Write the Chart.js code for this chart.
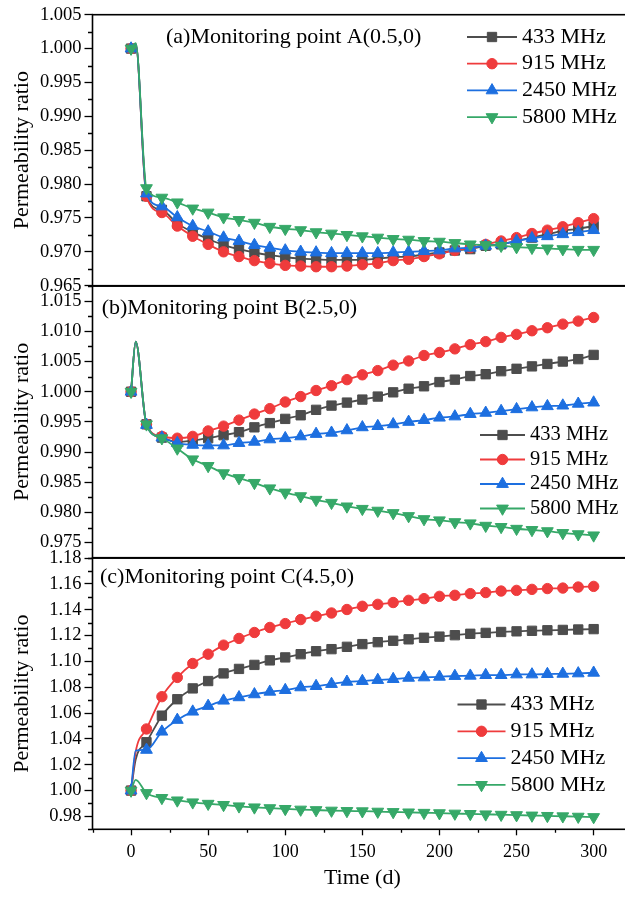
<!DOCTYPE html>
<html>
<head>
<meta charset="utf-8">
<title>Permeability ratio</title>
<script src="https://cdn.jsdelivr.net/npm/chart.js@4.4.1/dist/chart.umd.min.js"></script>
<style>
  html, body { margin: 0; padding: 0; background: #fff; overflow: hidden; width: 625px; height: 901px; }
  canvas { position: absolute; left: 0; display: block; }
</style>
</head>
<body>
<canvas id="chart-a" width="640" height="300" style="top:0"></canvas>
<canvas id="chart-b" width="640" height="300" style="top:272px"></canvas>
<canvas id="chart-c" width="640" height="357" style="top:544px"></canvas>
<script>
const days = [0, 3, 10, 20, 30, 40, 50, 60, 70, 80, 90, 100, 110, 120, 130, 140, 150,
  160, 170, 180, 190, 200, 210, 220, 230, 240, 250, 260, 270, 280, 290, 300];
const frequencies = ['433 MHz', '915 MHz', '2450 MHz', '5800 MHz'];

// (a) monitoring point A(0.5,0)
const pointA433 = [1.0000, 1.0007, 0.9782, 0.9762, 0.9742, 0.9729, 0.9719, 0.9710, 0.9704, 0.9699, 0.9695, 0.9692, 0.9690, 0.9689, 0.9688, 0.9688, 0.9688, 0.9690, 0.9692, 0.9693, 0.9696, 0.9699, 0.9702, 0.9704, 0.9709, 0.9711, 0.9716, 0.9721, 0.9726, 0.9731, 0.9734, 0.9738];
const pointA915 = [1.0000, 1.0007, 0.9782, 0.9758, 0.9738, 0.9723, 0.9711, 0.9700, 0.9693, 0.9687, 0.9683, 0.9680, 0.9679, 0.9678, 0.9678, 0.9679, 0.9681, 0.9683, 0.9687, 0.9689, 0.9693, 0.9697, 0.9702, 0.9706, 0.9711, 0.9716, 0.9721, 0.9727, 0.9732, 0.9737, 0.9743, 0.9749];
const pointA2450 = [1.0000, 1.0007, 0.9786, 0.9767, 0.9751, 0.9738, 0.9730, 0.9721, 0.9716, 0.9710, 0.9706, 0.9702, 0.9700, 0.9699, 0.9698, 0.9698, 0.9698, 0.9698, 0.9699, 0.9700, 0.9701, 0.9702, 0.9705, 0.9706, 0.9709, 0.9711, 0.9716, 0.9720, 0.9723, 0.9726, 0.9729, 0.9732];
const pointA5800 = [1.0000, 1.0008, 0.9794, 0.9780, 0.9773, 0.9764, 0.9758, 0.9751, 0.9747, 0.9743, 0.9737, 0.9734, 0.9732, 0.9729, 0.9727, 0.9725, 0.9723, 0.9721, 0.9719, 0.9718, 0.9716, 0.9715, 0.9713, 0.9711, 0.9710, 0.9709, 0.9707, 0.9706, 0.9705, 0.9704, 0.9703, 0.9703];

// (b) monitoring point B(2.5,0)
const pointB433 = [1.0000, 1.0083, 0.9946, 0.9924, 0.9917, 0.9919, 0.9923, 0.9928, 0.9933, 0.9941, 0.9948, 0.9955, 0.9961, 0.9970, 0.9977, 0.9982, 0.9987, 0.9992, 0.9999, 1.0005, 1.0009, 1.0016, 1.0020, 1.0026, 1.0029, 1.0034, 1.0038, 1.0042, 1.0046, 1.0050, 1.0054, 1.0061];
const pointB915 = [1.0000, 1.0083, 0.9946, 0.9926, 0.9923, 0.9926, 0.9935, 0.9943, 0.9953, 0.9963, 0.9972, 0.9983, 0.9992, 1.0002, 1.0010, 1.0020, 1.0028, 1.0035, 1.0044, 1.0051, 1.0060, 1.0065, 1.0071, 1.0078, 1.0083, 1.0090, 1.0095, 1.0101, 1.0106, 1.0112, 1.0117, 1.0123];
const pointB2450 = [1.0000, 1.0083, 0.9945, 0.9924, 0.9915, 0.9912, 0.9911, 0.9911, 0.9915, 0.9917, 0.9921, 0.9923, 0.9926, 0.9930, 0.9932, 0.9936, 0.9941, 0.9943, 0.9946, 0.9950, 0.9953, 0.9957, 0.9959, 0.9963, 0.9965, 0.9968, 0.9971, 0.9974, 0.9976, 0.9977, 0.9980, 0.9982];
const pointB5800 = [1.0000, 1.0083, 0.9946, 0.9923, 0.9906, 0.9888, 0.9877, 0.9865, 0.9857, 0.9849, 0.9840, 0.9833, 0.9827, 0.9821, 0.9816, 0.9810, 0.9806, 0.9803, 0.9799, 0.9794, 0.9789, 0.9787, 0.9784, 0.9782, 0.9778, 0.9776, 0.9773, 0.9771, 0.9769, 0.9766, 0.9764, 0.9762];

// (c) monitoring point C(4.5,0)
const pointC433 = [1.000, 1.024, 1.0374, 1.0580, 1.0707, 1.0791, 1.0848, 1.0907, 1.0942, 1.0973, 1.1008, 1.1031, 1.1056, 1.1079, 1.1095, 1.1113, 1.1134, 1.1149, 1.1160, 1.1171, 1.1183, 1.1192, 1.1203, 1.1214, 1.1221, 1.1228, 1.1233, 1.1237, 1.1241, 1.1244, 1.1247, 1.1250];
const pointC915 = [1.000, 1.030, 1.0477, 1.0727, 1.0876, 1.0984, 1.1056, 1.1126, 1.1178, 1.1224, 1.1263, 1.1293, 1.1324, 1.1350, 1.1375, 1.1402, 1.1427, 1.1442, 1.1456, 1.1473, 1.1486, 1.1504, 1.1512, 1.1525, 1.1533, 1.1545, 1.1550, 1.1558, 1.1564, 1.1568, 1.1576, 1.1581];
const pointC2450 = [1.000, 1.031, 1.0315, 1.0456, 1.0547, 1.0611, 1.0655, 1.0696, 1.0722, 1.0745, 1.0765, 1.0778, 1.0799, 1.0809, 1.0825, 1.0842, 1.0848, 1.0856, 1.0863, 1.0873, 1.0876, 1.0881, 1.0887, 1.0889, 1.0894, 1.0894, 1.0899, 1.0899, 1.0902, 1.0904, 1.0907, 1.0912];
const pointC5800 = [1.000, 1.0083, 0.9981, 0.9943, 0.9924, 0.9909, 0.9898, 0.9889, 0.9878, 0.9870, 0.9864, 0.9858, 0.9853, 0.9849, 0.9845, 0.9842, 0.9840, 0.9837, 0.9834, 0.9831, 0.9828, 0.9825, 0.9822, 0.9819, 0.9816, 0.9813, 0.9810, 0.9807, 0.9804, 0.9801, 0.9798, 0.9795];

const xTicks = [0, 50, 100, 150, 200, 250, 300];
const yTicksA = [0.965, 0.970, 0.975, 0.980, 0.985, 0.990, 0.995, 1.000, 1.005];
const yTicksB = [0.975, 0.980, 0.985, 0.990, 0.995, 1.000, 1.005, 1.010, 1.015];
const yTicksC = [0.98, 1.00, 1.02, 1.04, 1.06, 1.08, 1.10, 1.12, 1.14, 1.16, 1.18];

const FONT = '"Liberation Serif", "Times New Roman", serif';
const markers = [
  { color: '#4d4d4d', style: 'rect', radius: 6.6, rotation: 0 },
  { color: '#ef3b3c', style: 'circle', radius: 5.2, rotation: 0 },
  { color: '#1d6fe0', style: 'triangle', radius: 6.8, rotation: 0 },
  { color: '#36a868', style: 'triangle', radius: 6.8, rotation: 180 },
];

function drawMarker(ctx, m, x, y) {
  ctx.save();
  ctx.fillStyle = m.color;
  ctx.strokeStyle = m.color;
  ctx.lineWidth = 1;
  ctx.beginPath();
  if (m.style === 'circle') {
    ctx.arc(x, y, m.radius, 0, Math.PI * 2);
  } else if (m.style === 'rect') {
    const s = m.radius * Math.SQRT1_2;
    ctx.rect(x - s, y - s, 2 * s, 2 * s);
  } else {
    let rad = (m.rotation * Math.PI) / 180;
    ctx.moveTo(x + Math.sin(rad) * m.radius, y - Math.cos(rad) * m.radius);
    rad += (2 * Math.PI) / 3;
    ctx.lineTo(x + Math.sin(rad) * m.radius, y - Math.cos(rad) * m.radius);
    rad += (2 * Math.PI) / 3;
    ctx.lineTo(x + Math.sin(rad) * m.radius, y - Math.cos(rad) * m.radius);
    ctx.closePath();
  }
  ctx.fill();
  ctx.stroke();
  ctx.restore();
}

// frame, minor ticks, panel caption and legend
const panelDecor = {
  id: 'panelDecor',
  afterDraw(chart, args, opts) {
    const { ctx, chartArea } = chart;
    const { left, top, right, bottom } = chartArea;
    ctx.save();
    ctx.strokeStyle = '#000';
    ctx.lineWidth = 1.6;
    ctx.strokeRect(left, top, right - left, bottom - top);

    ctx.lineWidth = 1.3;
    const yScale = chart.scales.y;
    const yt = opts.yTicks;
    const yStep = yt[1] - yt[0];
    const yMinor = yt.map((v) => v - yStep / 2).concat([yt[yt.length - 1] + yStep / 2]);
    ctx.beginPath();
    yMinor.forEach((v) => {
      if (v < yScale.min - 1e-9 || v > yScale.max + 1e-9) return;
      const py = Math.round(yScale.getPixelForValue(v)) + 0.5;
      ctx.moveTo(left - 4.5, py);
      ctx.lineTo(left, py);
    });
    if (opts.showX) {
      const xScale = chart.scales.x;
      const xStep = xTicks[1] - xTicks[0];
      const xMinor = xTicks.map((v) => v - xStep / 2).concat([xTicks[xTicks.length - 1] + xStep / 2]);
      xMinor.forEach((v) => {
        const px = Math.round(xScale.getPixelForValue(v)) + 0.5;
        ctx.moveTo(px, bottom);
        ctx.lineTo(px, bottom + 3.5);
      });
    }
    ctx.stroke();

    ctx.fillStyle = '#000';
    ctx.textBaseline = 'middle';
    ctx.font = `22px ${FONT}`;
    ctx.fillText(opts.title, opts.titleX, opts.titleY);

    ctx.font = `${opts.legendSize}px ${FONT}`;
    chart.data.datasets.forEach((ds, i) => {
      const y = opts.legendY + i * opts.legendRow;
      const m = markers[i];
      ctx.strokeStyle = m.color;
      ctx.lineWidth = 1.8;
      ctx.beginPath();
      ctx.moveTo(opts.legendX, y);
      ctx.lineTo(opts.legendX + opts.legendLine, y);
      ctx.stroke();
      drawMarker(ctx, m, opts.legendX + opts.legendLine / 2, y);
      ctx.fillStyle = '#000';
      ctx.fillText(ds.label, opts.legendX + opts.legendLine + 5, y);
    });
    ctx.restore();
  },
};

function permeabilityChart(canvasId, series, panel) {
  const ctx = document.getElementById(canvasId).getContext('2d');
  const datasets = series.map((values, i) => ({
    label: frequencies[i],
    data: days.map((d, j) => ({ x: d, y: values[j] })),
    borderColor: markers[i].color,
    backgroundColor: markers[i].color,
    borderWidth: 1.8,
    pointStyle: markers[i].style,
    pointRotation: markers[i].rotation,
    pointRadius: (c) => (days[c.dataIndex] % 10 === 0 ? markers[i].radius : 0),
    pointBorderWidth: 1,
    pointHoverRadius: 0,
    cubicInterpolationMode: 'monotone',
    order: series.length - i,
  }));

  return new Chart(ctx, {
    type: 'line',
    data: { datasets },
    options: {
      responsive: false,
      animation: false,
      devicePixelRatio: 1,
      layout: { padding: panel.padding },
      scales: {
        x: {
          type: 'linear',
          min: -25,
          max: 325,
          display: panel.showX,
          afterBuildTicks: (scale) => { scale.ticks = xTicks.map((v) => ({ value: v })); },
          afterFit: (scale) => { scale.height = panel.showX ? 71.7 : 0; },
          border: { display: false },
          grid: { drawOnChartArea: false, tickLength: 6, tickWidth: 1.3, tickColor: '#000' },
          ticks: { color: '#000', padding: 6, autoSkip: false, maxRotation: 0, font: { family: FONT, size: 18 } },
          title: {
            display: true,
            text: 'Time (d)',
            color: '#000',
            font: { family: FONT, size: 22 },
            padding: { top: 0, bottom: 10 },
          },
        },
        y: {
          min: panel.yMin,
          max: panel.yMax,
          afterBuildTicks: (scale) => { scale.ticks = panel.yTicks.map((v) => ({ value: v })); },
          afterFit: (scale) => { scale.width = 92.5; },
          border: { display: false },
          grid: { drawOnChartArea: false, tickLength: 8, tickWidth: 1.3, tickColor: '#000' },
          ticks: {
            color: '#000',
            padding: 3,
            autoSkip: false,
            font: { family: FONT, size: 18.5 },
            callback: (v) => v.toFixed(panel.digits),
          },
          title: {
            display: true,
            text: 'Permeability ratio',
            color: '#000',
            font: { family: FONT, size: 22 },
            padding: { top: 9, bottom: 0 },
          },
        },
      },
      plugins: {
        legend: { display: false },
        tooltip: { enabled: false },
        panelDecor: { ...panel.decor, yTicks: panel.yTicks, showX: panel.showX },
      },
    },
    plugins: [panelDecor],
  });
}

permeabilityChart('chart-a', [pointA433, pointA915, pointA2450, pointA5800], {
  yMin: 0.965, yMax: 1.005, yTicks: yTicksA, digits: 3, showX: false,
  padding: { top: 14.7, bottom: 14.3, left: 0, right: 5.5 },
  decor: {
    title: '(a)Monitoring point A(0.5,0)', titleX: 166, titleY: 37,
    legendX: 467, legendY: 37, legendRow: 26.7, legendLine: 50, legendSize: 22,
  },
});

permeabilityChart('chart-b', [pointB433, pointB915, pointB2450, pointB5800], {
  yMin: 0.9725, yMax: 1.0175, yTicks: yTicksB, digits: 3, showX: false,
  padding: { top: 13.7, bottom: 14.3, left: 0, right: 5.5 },
  decor: {
    title: '(b)Monitoring point B(2.5,0)', titleX: 101.7, titleY: 36,
    legendX: 480, legendY: 163, legendRow: 24.5, legendLine: 45, legendSize: 20.5,
  },
});

permeabilityChart('chart-c', [pointC433, pointC915, pointC2450, pointC5800], {
  yMin: 0.97, yMax: 1.18, yTicks: yTicksC, digits: 2, showX: true,
  padding: { top: 13.7, bottom: 0, left: 0, right: 5.5 },
  decor: {
    title: '(c)Monitoring point C(4.5,0)', titleX: 100, titleY: 33,
    legendX: 457.5, legendY: 160.5, legendRow: 26.8, legendLine: 48, legendSize: 22,
  },
});
</script>
</body>
</html>
